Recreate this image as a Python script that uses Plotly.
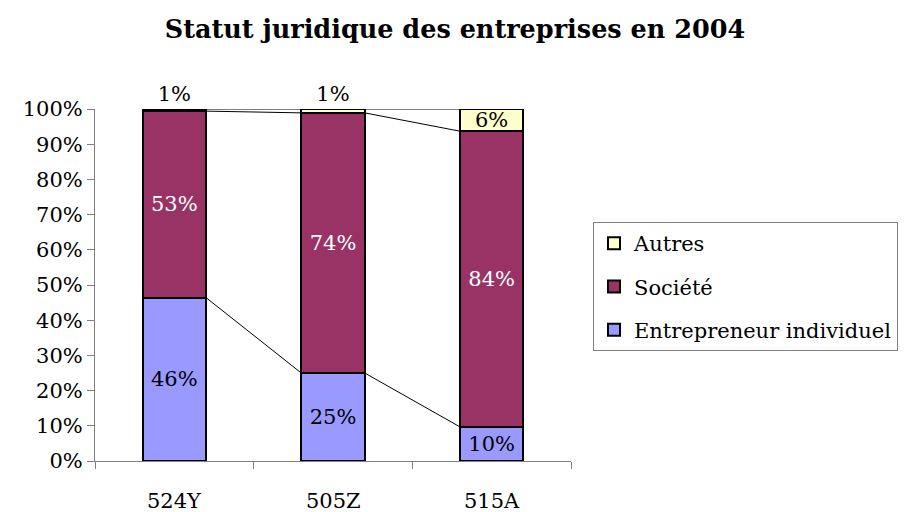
import plotly.graph_objects as go

categories = ["524Y", "505Z", "515A"]
entrepreneur = [46.4, 25.0, 9.7]
societe = [53.0, 73.9, 84.0]
autres = [0.6, 1.1, 6.3]
series_names = ["Entrepreneur individuel", "Société", "Autres"]
colors = ["#9999FF", "#993366", "#FFFFCC"]
text_colors = ["black", "white", "black"]
title_text = "Statut juridique des entreprises en 2004"
y_ticks = list(range(0, 101, 10))

FONT = "DejaVu Serif"
FS = 21
BW = 0.4

xs = list(range(len(categories)))
series = [entrepreneur, societe, autres]

fig = go.Figure()
for i, (name, vals) in enumerate(zip(series_names, series)):
    if i == len(series) - 1:
        tpos = ["outside" if v < 3 else "inside" for v in vals]
    else:
        tpos = "inside"
    fig.add_trace(go.Bar(
        x=xs, y=vals, name=name, width=BW,
        marker=dict(color=colors[i], line=dict(color="black", width=2)),
        text=[f"{round(v)}%" for v in vals],
        textposition=tpos,
        insidetextanchor="middle",
        constraintext="none",
        textfont=dict(family=FONT, size=FS, color=text_colors[i]),
        outsidetextfont=dict(family=FONT, size=FS, color="black"),
        cliponaxis=False,
        legendgroup=name,
        legendrank=len(series) - i,
    ))

# series connector lines between adjacent bars
cum = [0.0] * len(categories)
for vals in series:
    cum = [c + v for c, v in zip(cum, vals)]
    for j in range(len(categories) - 1):
        fig.add_trace(go.Scatter(
            x=[xs[j] + BW / 2, xs[j + 1] - BW / 2],
            y=[cum[j], cum[j + 1]],
            mode="lines", line=dict(color="black", width=1),
            showlegend=False, hoverinfo="skip",
        ))

for xi, cat in zip(xs, categories):
    fig.add_annotation(x=xi, y=0, xref="x", yref="paper", text=cat,
                       showarrow=False, yanchor="top", yshift=-26,
                       font=dict(family=FONT, size=FS, color="black"))

fig.update_layout(
    width=910, height=512,
    margin=dict(l=95, r=339, t=109, b=51),
    barmode="stack",
    plot_bgcolor="white", paper_bgcolor="white",
    title=dict(text=f"<b>{title_text}</b>", x=0.5, xanchor="center",
               y=1 - 29 / 512, yanchor="middle",
               font=dict(family=FONT, size=25.5, color="black")),
    xaxis=dict(range=[-0.5, len(categories) - 0.5],
               tickvals=[x - 0.5 for x in range(len(categories) + 1)],
               ticktext=[""] * (len(categories) + 1),
               ticks="outside", ticklen=7, tickcolor="#808080",
               showline=True, linecolor="#808080", linewidth=1,
               showgrid=False, zeroline=False, fixedrange=True),
    yaxis=dict(range=[0, 100], tickvals=y_ticks,
               ticktext=[f"{t}%" for t in y_ticks],
               ticks="outside", ticklen=7, tickcolor="#808080",
               showline=True, linecolor="#808080", linewidth=1,
               showgrid=False, zeroline=False,
               tickfont=dict(family=FONT, size=FS, color="black")),
    legend=dict(x=(593 - 95) / 476, y=(461 - 222) / 352,
                xanchor="left", yanchor="top",
                traceorder="grouped", tracegroupgap=13,
                bordercolor="#808080", borderwidth=1,
                font=dict(family=FONT, size=FS, color="black"),
                itemwidth=30),
    showlegend=True,
)

fig.write_html("out.html", config={"displayModeBar": False},
               post_script="document.body.style.margin='0';document.body.style.padding='0';")
